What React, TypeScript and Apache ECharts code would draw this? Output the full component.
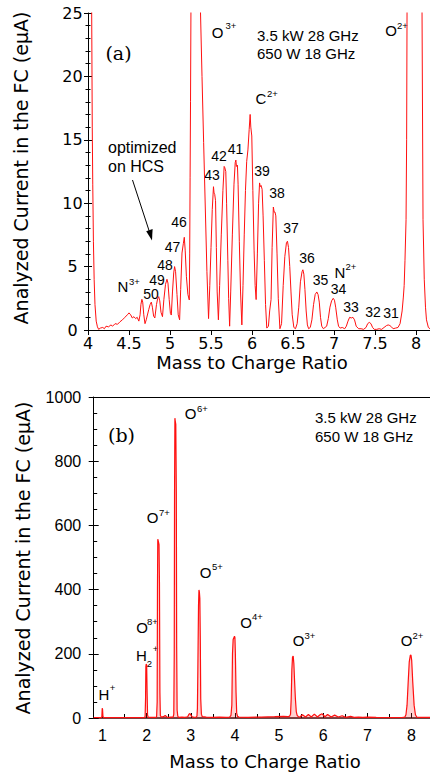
import React, { useEffect, useRef } from "react";
import * as echarts from "echarts";

// ---------- data ----------
// Panel (a): mass-to-charge ratio vs analyzed current (eμA)
const TOP_SPECTRUM: [number, number][] = [
  [4.0, 80], [4.035, 30], [4.045, 25], [4.052, 16], [4.058, 11.5], [4.066, 7], [4.075, 4], [4.085, 2],
  [4.1, 0.7], [4.115, 0.25], [4.13, 0.05], [4.15, 0.15], [4.18, 0.2], [4.2, 0.1], [4.22, 0.3], [4.25, 0.25],
  [4.28, 0.4], [4.3, 0.3], [4.33, 0.5], [4.36, 0.45], [4.39, 0.65], [4.42, 0.8], [4.45, 1.0], [4.48, 1.2],
  [4.5, 1.35], [4.52, 1.2], [4.54, 0.95], [4.56, 1.05], [4.58, 0.9], [4.6, 1.0], [4.62, 0.7],
  [4.635, 1.2], [4.645, 2.0], [4.657, 2.42], [4.667, 2.2], [4.68, 1.2], [4.695, 0.5],
  [4.71, 0.8], [4.74, 1.6], [4.757, 2.0], [4.772, 2.2], [4.785, 1.8], [4.8, 1.1], [4.815, 0.95],
  [4.835, 2.0], [4.85, 2.5], [4.862, 2.63], [4.875, 2.3], [4.89, 1.4], [4.908, 1.05],
  [4.925, 2.4], [4.945, 3.6], [4.963, 4.0], [4.975, 3.7], [4.99, 2.4], [5.005, 1.3], [5.016, 1.18],
  [5.03, 3.0], [5.045, 4.5], [5.056, 5.0], [5.068, 4.6], [5.085, 2.8], [5.1, 1.2], [5.117, 0.8],
  [5.13, 3.2], [5.146, 6.07], [5.162, 6.8], [5.174, 7.31], [5.185, 6.3], [5.2, 4.2], [5.218, 2.8],
  [5.235, 2.37], [5.24, 6], [5.245, 12], [5.25, 18], [5.255, 25], [5.265, 45], [5.29, 120], [5.33, 220],
  [5.355, 120], [5.365, 45], [5.372, 25], [5.39, 20], [5.41, 14.8], [5.43, 9.7], [5.45, 4.6], [5.47, 0.9],
  [5.485, 3.5], [5.5, 6.5], [5.515, 9.5], [5.53, 11.3], [5.537, 10.8], [5.545, 10.7], [5.555, 10.2],
  [5.565, 6.5], [5.575, 3.0], [5.59, 0.8],
  [5.605, 3.5], [5.625, 7.5], [5.645, 11], [5.66, 12.9], [5.668, 12.8], [5.68, 12.5], [5.69, 10],
  [5.705, 5.5], [5.715, 2.5], [5.727, 0.3],
  [5.74, 3], [5.76, 7.5], [5.78, 11.5], [5.795, 13.2], [5.803, 13.4], [5.81, 12.9], [5.822, 13.0],
  [5.83, 11.5], [5.845, 7], [5.86, 3], [5.876, 0.4],
  [5.89, 3.5], [5.905, 7.5], [5.92, 11], [5.935, 13.3], [5.95, 14.2], [5.965, 15.8], [5.977, 17.0],
  [5.985, 16.0], [5.997, 15.3], [6.01, 11], [6.025, 6.3], [6.038, 3.5], [6.05, 2.4],
  [6.065, 6], [6.08, 10], [6.092, 11.6], [6.1, 11.3], [6.11, 11.4], [6.123, 11.1], [6.135, 9],
  [6.15, 5.5], [6.165, 2], [6.18, 0.15],
  [6.2, 0.3], [6.215, 1.5], [6.232, 2.4], [6.245, 6.5], [6.26, 9.7], [6.27, 9.3], [6.28, 9.3],
  [6.29, 9.0], [6.305, 6], [6.32, 2.5], [6.34, 0.1],
  [6.36, 0.5], [6.38, 3.5], [6.4, 5.8], [6.42, 6.9], [6.432, 7.0], [6.445, 6.5], [6.46, 5.0],
  [6.475, 3], [6.49, 1.2], [6.51, 0.2],
  [6.53, 0.1], [6.55, 0.5], [6.57, 1.8], [6.59, 3.8], [6.61, 4.6], [6.62, 4.75], [6.632, 4.4],
  [6.645, 3.2], [6.66, 1.5], [6.675, 0.4], [6.69, 0.1],
  [6.71, 0.2], [6.73, 0.8], [6.75, 2.0], [6.77, 2.8], [6.79, 3.0], [6.805, 2.8], [6.82, 2.2],
  [6.835, 1.0], [6.85, 0.3], [6.87, 0.1],
  [6.89, 0.2], [6.91, 0.3], [6.93, 0.9], [6.95, 1.8], [6.97, 2.3], [6.99, 2.5], [7.005, 2.35],
  [7.02, 1.8], [7.04, 0.8], [7.055, 0.3], [7.075, 0.15],
  [7.1, 0.2], [7.13, 0.1], [7.15, 0.3], [7.17, 0.7], [7.19, 1.0], [7.21, 0.95], [7.23, 1.0],
  [7.25, 0.8], [7.27, 0.3], [7.3, 0.1],
  [7.33, 0.1], [7.36, 0.05], [7.39, 0.2], [7.41, 0.5], [7.43, 0.6], [7.45, 0.5], [7.47, 0.2], [7.49, 0.05],
  [7.52, 0.05], [7.55, 0.1], [7.58, 0.05], [7.61, 0.2], [7.64, 0.35], [7.66, 0.4], [7.68, 0.35],
  [7.7, 0.25], [7.72, 0.1], [7.75, 0.15],
  [7.78, 0.2], [7.805, 0.5], [7.83, 1.5], [7.845, 2.6], [7.855, 3.5], [7.865, 5.5], [7.878, 8.7],
  [7.885, 15], [7.89, 25], [7.9, 60], [7.95, 180], [8.0, 200], [8.05, 150], [8.065, 60], [8.073, 25],
  [8.085, 8.7], [8.1, 4], [8.115, 1.8], [8.127, 0.8], [8.15, 0.2], [8.17, 0.1],
];

// Panel (b): full range spectrum
const BOTTOM_SPECTRUM: [number, number][] = [
  [0.8, 1], [0.9, 1], [0.97, 1], [0.985, 4], [0.993, 30], [1.0, 28], [1.01, 4], [1.03, 1],
  [1.2, 1], [1.5, 1], [1.8, 1], [1.95, 1],
  [1.965, 5], [1.975, 60], [1.982, 160], [1.99, 168], [2.0, 165], [2.01, 80], [2.02, 10], [2.035, 2],
  [2.1, 2], [2.2, 2], [2.225, 3], [2.238, 50], [2.245, 400], [2.252, 557], [2.265, 550], [2.28, 540],
  [2.29, 420], [2.3, 80], [2.31, 8], [2.33, 3],
  [2.38, 4], [2.42, 8], [2.46, 3], [2.5, 2], [2.55, 3], [2.6, 3],
  [2.615, 12], [2.625, 200], [2.632, 700], [2.64, 934], [2.648, 925], [2.66, 915], [2.672, 700],
  [2.68, 220], [2.69, 25], [2.705, 6], [2.72, 2],
  [2.8, 3], [2.87, 2], [2.93, 4], [2.96, 12], [2.98, 14], [3.0, 10], [3.03, 4], [3.08, 2],
  [3.12, 3], [3.14, 6], [3.15, 30], [3.16, 150], [3.175, 350], [3.185, 399], [3.195, 392],
  [3.205, 372], [3.215, 250], [3.225, 60], [3.24, 12], [3.26, 4],
  [3.35, 3], [3.5, 2], [3.65, 3], [3.8, 2],
  [3.88, 3], [3.91, 8], [3.93, 40], [3.945, 200], [3.96, 245], [3.975, 249], [3.99, 255], [4.0, 250],
  [4.01, 200], [4.025, 80], [4.04, 15], [4.06, 5], [4.09, 3],
  [4.3, 2], [4.6, 3], [4.9, 4], [5.1, 5], [5.2, 4],
  [5.24, 6], [5.26, 12], [5.275, 60], [5.29, 150], [5.305, 190], [5.32, 193], [5.335, 170],
  [5.35, 120], [5.37, 60], [5.39, 20], [5.41, 8], [5.44, 4],
  [5.47, 3], [5.53, 10], [5.6, 3], [5.665, 11], [5.73, 3], [5.8, 12], [5.87, 3], [5.93, 10],
  [5.975, 13], [6.04, 4], [6.1, 11], [6.18, 3], [6.26, 9], [6.34, 3], [6.43, 7], [6.51, 2],
  [6.62, 5], [6.7, 2], [6.8, 3], [6.9, 2], [7.0, 3], [7.2, 2], [7.5, 1], [7.8, 2],
  [7.85, 3], [7.875, 10], [7.9, 40], [7.925, 110], [7.95, 175], [7.975, 196], [7.99, 195],
  [8.005, 180], [8.03, 110], [8.06, 40], [8.09, 10], [8.12, 3], [8.2, 2], [8.42, 2],
];

const TOP_X_TICKS = [4, 4.5, 5, 5.5, 6, 6.5, 7, 7.5, 8];
const BOTTOM_X_TICKS = [1, 2, 3, 4, 5, 6, 7, 8];
const BOTTOM_X_MINOR = [1.5, 2.5, 3.5, 4.5, 5.5, 6.5, 7.5];
const TOP_Y = { min: 0, max: 25, step: 5 };
const BOTTOM_Y = { min: 0, max: 1000, step: 200 };

const Y_TITLE = "Analyzed Current in the FC (eμA)";
const X_TITLE = "Mass to Charge Ratio";
const CONDITIONS = ["3.5 kW 28 GHz", "650 W 18 GHz"];
const CHARGE_STATES = ["46", "47", "48", "49", "50", "43", "42", "41", "39", "38", "37", "36", "35", "34", "33", "32", "31"];

// ---------- layout ----------
const CHARGE_POS: [number, number][] = [
  [179, 222], [172.5, 247], [165, 264.5], [157, 280], [151, 293.5],
  [212, 174.5], [219, 156], [235.5, 148.5], [262, 170.5], [277, 193.3],
  [291, 228], [307, 258], [320.5, 280], [338.5, 289], [351, 307], [373, 312], [391, 313],
];

// ion labels: [main, sup, xMain, yMain, xSup, ySup]
const IONS: [string, string, number, number, number, number][] = [
  ["O", "3+", 217.5, 32.5, 231, 25.5],
  ["O", "2+", 391, 30.5, 402.5, 25],
  ["C", "2+", 261, 98.5, 272.5, 93.5],
  ["N", "3+", 123, 286, 134.5, 281],
  ["N", "2+", 340, 272, 351, 266.5],
  ["H", "+", 104, 694, 112.5, 687],
  ["O", "8+", 142, 627.5, 152.5, 621.5],
  ["O", "7+", 152.5, 517.5, 164.5, 512.5],
  ["O", "6+", 190.5, 413.5, 202.5, 408.5],
  ["O", "5+", 205.5, 572.5, 217.5, 566.5],
  ["O", "4+", 246, 622, 257.5, 616.5],
  ["O", "3+", 298.5, 640, 310, 635],
  ["O", "2+", 406.5, 640, 418, 635],
];

const SANS = "Liberation Sans";
const WIDE = "DejaVu Sans";

function txt(text: string, x: number, y: number, size: number, family: string, align = "center", extra: any = {}) {
  return {
    type: "text",
    x,
    y,
    silent: true,
    ...extra,
    style: { text, fontSize: size, fontFamily: family, fill: "#000", align, verticalAlign: "middle" },
  };
}

export default function App() {
  const ref = useRef<HTMLDivElement>(null);

  useEffect(() => {
    if (!ref.current) return;
    const chart = echarts.init(ref.current, undefined, { renderer: "svg" });

    const axisLine = { show: true, lineStyle: { color: "#000", width: 1 } };
    const plain = (v: number) => String(v);

    const graphics: any[] = [];
    // axis titles
    graphics.push(txt(Y_TITLE, 21, 168, 19, WIDE, "center", { rotation: Math.PI / 2 }));
    graphics.push(txt(Y_TITLE, 23, 558, 19, WIDE, "center", { rotation: Math.PI / 2 }));
    graphics.push(txt(X_TITLE, 252, 362, 18, WIDE));
    graphics.push(txt(X_TITLE, 265, 761, 18, WIDE));
    // panel tags
    graphics.push(txt("(a)", 118.5, 52.5, 19, "DejaVu Serif"));
    graphics.push(txt("(b)", 121.5, 435, 19, "DejaVu Serif"));
    // conditions
    graphics.push(txt(CONDITIONS[0], 257, 35, 15, SANS, "left"));
    graphics.push(txt(CONDITIONS[1], 257, 53, 15, SANS, "left"));
    graphics.push(txt(CONDITIONS[0], 315, 417.5, 15, SANS, "left"));
    graphics.push(txt(CONDITIONS[1], 315, 436, 15, SANS, "left"));
    // optimized on HCS + arrow
    graphics.push(txt("optimized", 108, 147, 16, SANS, "left"));
    graphics.push(txt("on HCS", 108, 166, 16, SANS, "left"));
    graphics.push({
      type: "line",
      silent: true,
      shape: { x1: 132.5, y1: 180, x2: 149.5, y2: 232 },
      style: { stroke: "#000", lineWidth: 1 },
    });
    graphics.push({
      type: "polygon",
      silent: true,
      shape: { points: [[152, 240.5], [152.6, 229], [146.2, 231.2]] },
      style: { fill: "#000" },
    });
    // charge state numbers
    CHARGE_STATES.forEach((q, i) => {
      graphics.push(txt(q, CHARGE_POS[i][0], CHARGE_POS[i][1], 14, SANS));
    });
    // ion labels
    IONS.forEach(([m, s, xm, ym, xs, ys]) => {
      graphics.push(txt(m, xm, ym, 15, SANS));
      graphics.push(txt(s, xs, ys, 9.5, SANS));
    });
    // H2+ label
    graphics.push(txt("H", 141.5, 655, 15, SANS));
    graphics.push(txt("2", 149.5, 663.5, 9.5, SANS));
    graphics.push(txt("+", 155.5, 648, 9.5, SANS));

    chart.setOption({
      animation: false,
      backgroundColor: "#fff",
      grid: [
        { left: 88, top: 13, width: 342, height: 317 },
        { left: 93.7, top: 397, width: 336.3, height: 321 },
      ],
      xAxis: [
        {
          type: "value", gridIndex: 0, min: 4, max: 8.17, position: "bottom",
          axisLine,
          axisTick: { show: true, inside: false, length: 5, customValues: TOP_X_TICKS, lineStyle: { color: "#000" } },
          axisLabel: { show: true, customValues: TOP_X_TICKS, formatter: plain, margin: 5, fontSize: 16, fontFamily: WIDE, color: "#000" },
          splitLine: { show: false },
        },
        {
          type: "value", gridIndex: 0, min: 4, max: 8.17, position: "top",
          axisLine, axisTick: { show: false }, axisLabel: { show: false }, splitLine: { show: false },
        },
        {
          type: "value", gridIndex: 1, min: 0.8, max: 8.42, position: "bottom",
          axisLine: { show: true, lineStyle: { color: "#3a0a0a", width: 1.5 } },
          axisTick: { show: true, inside: true, length: 5, customValues: BOTTOM_X_TICKS, lineStyle: { color: "#000" } },
          axisLabel: { show: true, customValues: BOTTOM_X_TICKS, formatter: plain, margin: 9, fontSize: 16, fontFamily: SANS, color: "#000" },
          splitLine: { show: false },
        },
        {
          type: "value", gridIndex: 1, min: 0.8, max: 8.42, position: "bottom",
          axisLine: { show: false },
          axisTick: { show: true, inside: true, length: 4, customValues: BOTTOM_X_MINOR, lineStyle: { color: "#000" } },
          axisLabel: { show: false }, splitLine: { show: false },
        },
        {
          type: "value", gridIndex: 1, min: 0.8, max: 8.42, position: "top",
          axisLine, axisTick: { show: false }, axisLabel: { show: false }, splitLine: { show: false },
        },
      ],
      yAxis: [
        {
          type: "value", gridIndex: 0, min: TOP_Y.min, max: TOP_Y.max, interval: TOP_Y.step, position: "left",
          axisLine,
          axisTick: { show: true, inside: false, length: 4, lineStyle: { color: "#000" } },
          minorTick: { show: true, splitNumber: 5, length: 2.5, lineStyle: { color: "#000" } },
          axisLabel: { show: true, align: "center", margin: 15.5, formatter: plain, fontSize: 16, fontFamily: WIDE, color: "#000" },
          splitLine: { show: false },
        },
        {
          type: "value", gridIndex: 0, min: TOP_Y.min, max: TOP_Y.max, interval: TOP_Y.step, position: "left",
          axisLine: { show: false },
          axisTick: { show: true, inside: true, length: 4, lineStyle: { color: "#000" } },
          minorTick: { show: true, splitNumber: 5, length: 2.5, lineStyle: { color: "#000" } },
          axisLabel: { show: false }, splitLine: { show: false },
        },
        {
          type: "value", gridIndex: 1, min: BOTTOM_Y.min, max: BOTTOM_Y.max, interval: BOTTOM_Y.step, position: "left",
          axisLine,
          axisTick: { show: true, inside: false, length: 5, lineStyle: { color: "#000" } },
          minorTick: { show: false },
          axisLabel: { show: true, align: "right", margin: 12.5, formatter: plain, fontSize: 16, fontFamily: SANS, color: "#000" },
          splitLine: { show: false },
        },
        {
          type: "value", gridIndex: 1, min: BOTTOM_Y.min, max: BOTTOM_Y.max, interval: BOTTOM_Y.step, position: "left",
          axisLine: { show: false },
          axisTick: { show: true, inside: true, length: 5, lineStyle: { color: "#000" } },
          minorTick: { show: true, splitNumber: 4, length: 3.5, lineStyle: { color: "#000" } },
          axisLabel: { show: false }, splitLine: { show: false },
        },
      ],
      series: [
        {
          type: "line", xAxisIndex: 0, yAxisIndex: 0, data: TOP_SPECTRUM,
          showSymbol: false, symbol: "none", clip: true,
          lineStyle: { color: "#ff1010", width: 1 }, z: 3,
        },
        {
          type: "line", xAxisIndex: 2, yAxisIndex: 2, data: BOTTOM_SPECTRUM,
          showSymbol: false, symbol: "none", clip: true,
          lineStyle: { color: "#ff1010", width: 1.2 },
          areaStyle: { color: "rgba(255,40,40,0.3)" }, z: 3,
        },
      ],
      graphic: graphics,
    });

    return () => chart.dispose();
  }, []);

  return (
    <div
      ref={ref}
      style={{ position: "absolute", left: 0, top: 0, width: 430, height: 773, background: "#fff" }}
    />
  );
}
